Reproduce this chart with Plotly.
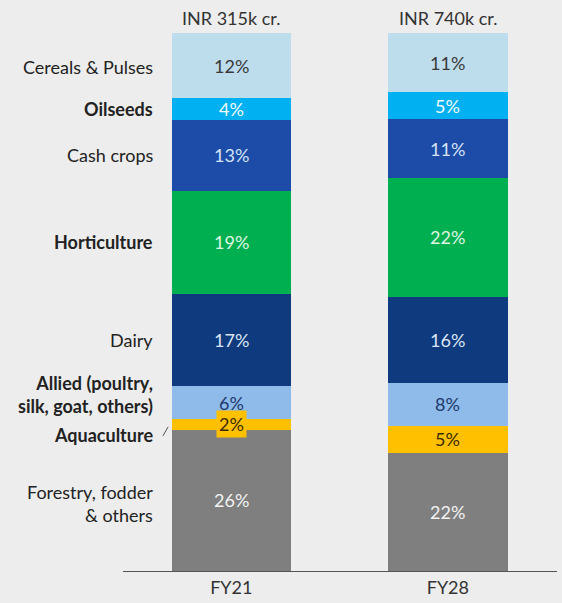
import plotly.graph_objects as go

years = ["FY21", "FY28"]
totals = ["INR 315k cr.", "INR 740k cr."]
# bottom to top
segments = ["Forestry, fodder<br>& others", "Aquaculture", "Allied (poultry,<br>silk, goat, others)",
            "Dairy", "Horticulture", "Cash crops", "Oilseeds", "Cereals & Pulses"]
fy21 = [26, 2, 6, 17, 19, 13, 4, 12]
fy28 = [22, 5, 8, 16, 22, 11, 5, 11]
colors = ["#7f7f7f", "#ffc000", "#8fbbea", "#0f3a7e", "#00b050", "#1c4ca8", "#00b0f0", "#bddcec"]
text_colors = ["#f2f2f2", "#3a2c00", "#1d3a6b", "#dbe5f5", "#dff5e3", "#d6e2f7", "#f2fbff", "#3a3a3a"]
bold = [False, True, True, False, True, False, True, False]
label_shift = [-3, -11, 8, 0, 0, 0, 0, -1]

FONT = "Lato"
fig = go.Figure()
for i, name in enumerate(segments):
    fig.add_trace(go.Bar(x=years, y=[fy21[i], fy28[i]], name=name,
                         marker=dict(color=colors[i], line=dict(width=0)),
                         width=0.552, hoverinfo="skip"))

anns = []
for vals, yr in [(fy21, "FY21"), (fy28, "FY28")]:
    tot = sum(vals)
    cum = 0
    for i, v in enumerate(vals):
        mid = (cum + v / 2) / tot * 100
        cum += v
        a = dict(x=yr, y=mid, xref="x", yref="y", text=f"{v}%", showarrow=False,
                 font=dict(family=FONT, size=18, color=text_colors[i]))
        if segments[i] == "Aquaculture" and yr == "FY21":
            a.update(bgcolor=colors[i], borderpad=2)
        anns.append(a)
    if yr == "FY21":
        cum = 0
        for i, v in enumerate(vals):
            mid = (cum + v / 2) / tot * 100
            cum += v
            txt = segments[i]
            if bold[i]:
                txt = "<b>" + txt.replace("<br>", "</b><br><b>") + "</b>"
            anns.append(dict(x=0.0737, y=mid, xref="paper", yref="y", text=txt,
                             showarrow=False, xanchor="right", align="right",
                             yshift=label_shift[i],
                             font=dict(family=FONT, size=18, color="#222222")))

for yr, t in zip(years, totals):
    anns.append(dict(x=yr, y=100, xref="x", yref="y", text=t, showarrow=False,
                     yanchor="bottom", yshift=2, font=dict(family=FONT, size=18, color="#333333")))

fig.update_layout(
    barmode="stack", barnorm="percent",
    width=562, height=603,
    margin=dict(l=123, r=5, t=33, b=32),
    paper_bgcolor="#ededed", plot_bgcolor="#ededed",
    showlegend=False,
    annotations=anns,
    font=dict(family=FONT),
    shapes=[dict(type="line", xref="paper", yref="paper", x0=0.092, x1=0.104, y0=0.251, y1=0.268,
                 line=dict(color="#555555", width=1))],
)
fig.update_xaxes(range=[-0.5, 1.504], showline=True, linecolor="#555555", linewidth=1,
                 ticks="", tickfont=dict(family=FONT, size=18, color="#333333"), showgrid=False)
fig.update_yaxes(range=[0, 100], visible=False, showgrid=False)

fig.write_html("out.html", config={"displayModeBar": False},
               post_script="document.body.style.margin='0px';document.body.style.background='#ededed';document.body.style.overflow='hidden';")
